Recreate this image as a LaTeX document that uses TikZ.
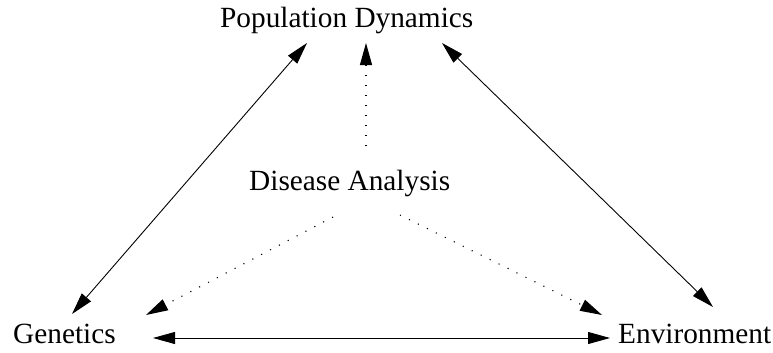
\documentclass[tikz,border=0pt]{standalone}
\usepackage{fontspec}
\setmainfont{Liberation Serif}
\usetikzlibrary{arrows.meta}
\begin{document}
\begin{tikzpicture}[x=1pt,y=-1pt,
  label/.style={anchor=base west,inner sep=0pt,font=\fontsize{29.3}{34}\selectfont},
  link/.style={line width=0.9pt,{Triangle[length=22pt,width=12pt]}-{Triangle[length=22pt,width=12pt]}},
  hint/.style={line width=1.1pt,dash pattern=on 1.1pt off 8.9pt,-{Triangle[length=22pt,width=12pt]}}]
  \useasboundingbox (0,0) rectangle (773,353);
  % topic labels
  \node[label] (pop) at (220,28) {Population Dynamics};
  \node[label] (dis) at (249,190) {Disease Analysis};
  \node[label] (gen) at (13,343) {Genetics};
  \node[label] (env) at (618,343) {Environment};
  % connector ends around the labels
  \coordinate (popL) at (307,43);
  \coordinate (popM) at (366,43);
  \coordinate (popR) at (442,43);
  \coordinate (disT) at (366,146);
  \coordinate (disL) at (333,217);
  \coordinate (disR) at (400,215);
  \coordinate (genT) at (72,314);
  \coordinate (genD) at (146,315);
  \coordinate (genR) at (153,338);
  \coordinate (envT) at (713,307);
  \coordinate (envD) at (602,315);
  \coordinate (envL) at (610,338);
  % two-way links
  \draw[link] (genT) -- (popL);
  \draw[link] (popR) -- (envT);
  \draw[link] (genR) -- (envL);
  % dotted links out of disease analysis
  \draw[hint] (disT) -- (popM);
  \draw[hint] (disL) -- (genD);
  \draw[hint] (disR) -- (envD);
\end{tikzpicture}
\end{document}
